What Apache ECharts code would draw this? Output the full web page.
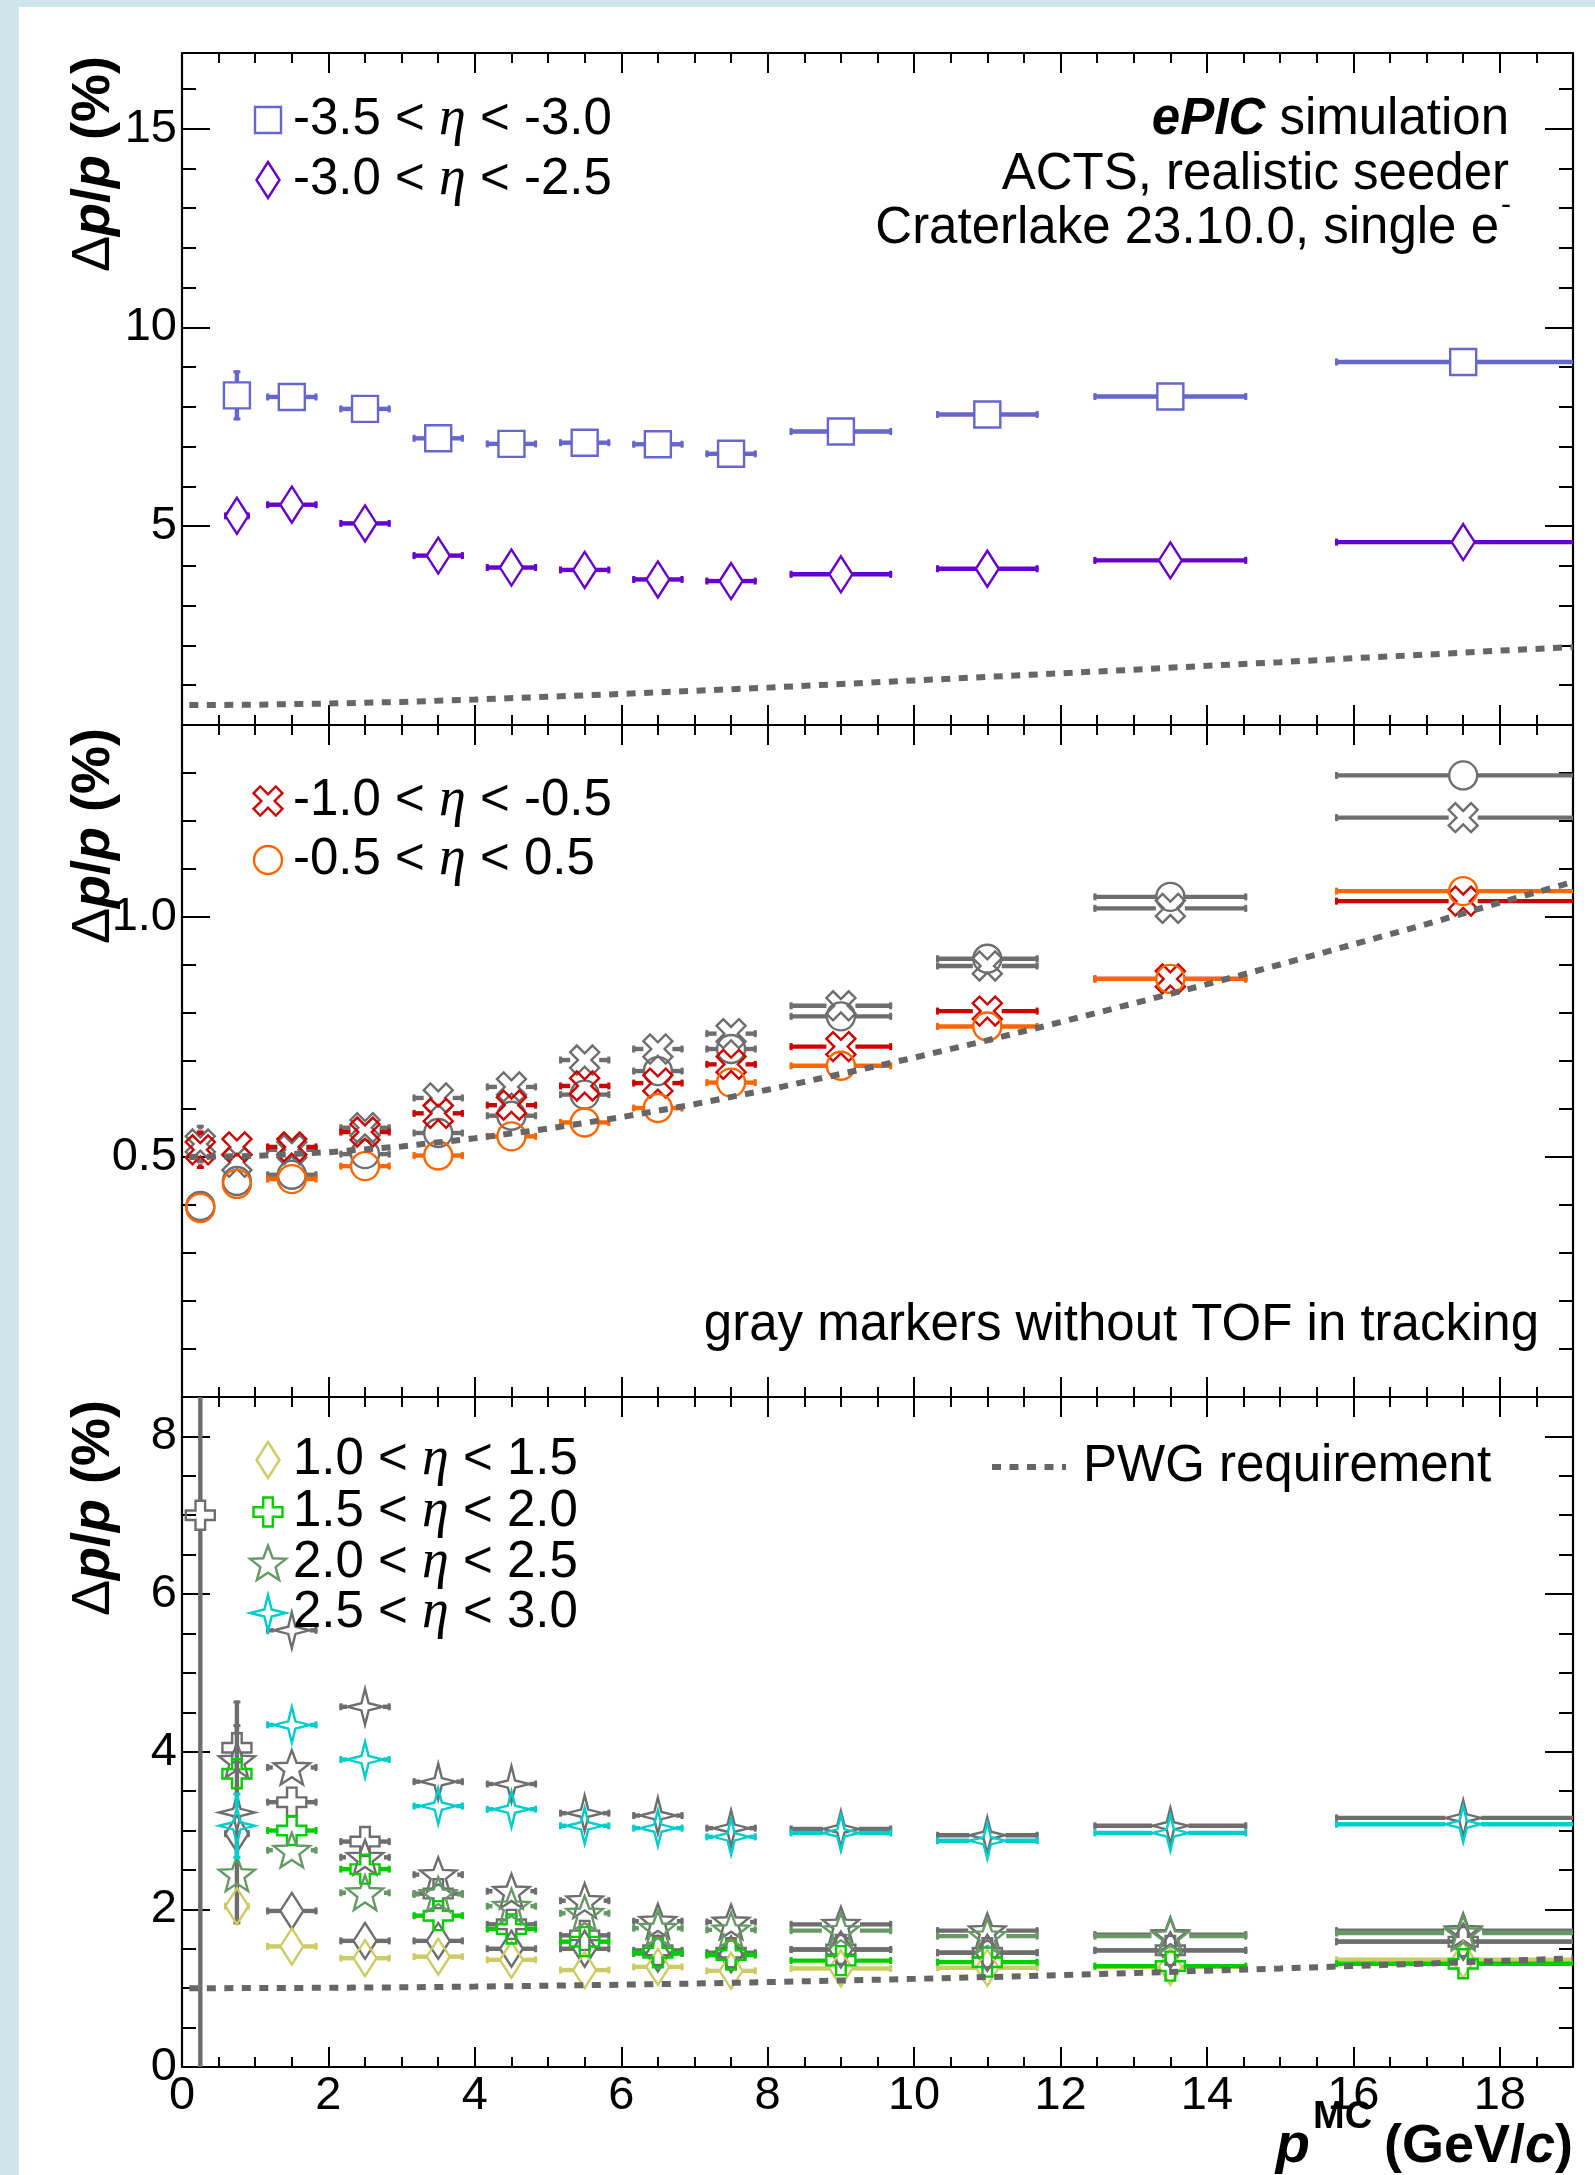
<!DOCTYPE html>
<html><head><meta charset="utf-8">
<script src="https://cdn.jsdelivr.net/npm/echarts@6/dist/echarts.min.js"></script>
<style>html,body{margin:0;padding:0;background:#cfe4eb;} #c{width:1595px;height:2175px;}</style>
</head><body><div id="c"></div>
<script>
// ---------------- data ----------------
const xCenters = [0.25, 0.75, 1.5, 2.5, 3.5, 4.5, 5.5, 6.5, 7.5, 9, 11, 13.5, 17.5];
const xErrors  = [0.175, 0.175, 0.35, 0.35, 0.35, 0.35, 0.35, 0.35, 0.35, 0.7, 0.7, 1.05, 1.75];

// panel 1 (backward)
const etaM35M30     = [null, 8.29, 8.25, 7.95, 7.21, 7.07, 7.10, 7.06, 6.82, 7.38, 7.81, 8.26, 9.13];
const etaM35M30Err  = [null, 0.63, 0.08, 0.08, 0.06, 0.06, 0.06, 0.06, 0.06, 0.05, 0.05, 0.05, 0.05];
const etaM30M25     = [null, 5.26, 5.54, 5.07, 4.26, 3.96, 3.90, 3.66, 3.62, 3.79, 3.93, 4.14, 4.60];
const etaM30M25Err  = [null, 0.10, 0.06, 0.05, 0.05, 0.04, 0.04, 0.04, 0.04, 0.04, 0.04, 0.04, 0.04];

// panel 2 (barrel)
const etaM10M05       = [0.515, 0.521, 0.521, 0.552, 0.591, 0.608, 0.648, 0.654, 0.693, 0.730, 0.804, 0.871, 1.033];
const etaM10M05Err    = [0.040, 0.020, 0.008, 0.006, 0.005, 0.005, 0.005, 0.005, 0.005, 0.005, 0.005, 0.005, 0.005];
const etaM10M05NoTOF  = [0.527, 0.489, 0.515, 0.561, 0.623, 0.646, 0.702, 0.725, 0.757, 0.815, 0.898, 1.018, 1.207];
const etaM05P05       = [0.394, 0.444, 0.454, 0.481, 0.503, 0.543, 0.572, 0.602, 0.655, 0.690, 0.772, 0.871, 1.054];
const etaM05P05Err    = [0.010, 0.008, 0.005, 0.005, 0.005, 0.005, 0.005, 0.005, 0.005, 0.005, 0.005, 0.005, 0.005];
const etaM05P05NoTOF  = [0.398, 0.450, 0.463, 0.506, 0.550, 0.586, 0.630, 0.679, 0.725, 0.793, 0.913, 1.042, 1.295];

// panel 3 (forward)
const eta10P15        = [null, 2.04, 1.53, 1.38, 1.40, 1.36, 1.23, 1.27, 1.22, 1.25, 1.26, 1.27, 1.36];
const eta10P15Err     = [null, 0.10, 0.04, 0.03, 0.03, 0.03, 0.03, 0.03, 0.03, 0.03, 0.03, 0.03, 0.03];
const eta10P15NoTOF   = [null, 2.96, 1.98, 1.60, 1.60, 1.50, 1.50, 1.44, 1.43, 1.49, 1.45, 1.48, 1.59];
const eta15P20        = [null, 3.72, 3.00, 2.51, 1.92, 1.75, 1.59, 1.45, 1.42, 1.35, 1.33, 1.28, 1.31];
const eta15P20Err     = [null, 0.15, 0.06, 0.05, 0.04, 0.04, 0.03, 0.03, 0.03, 0.03, 0.03, 0.03, 0.03];
const eta15P20NoTOF   = [7.00, 4.05, 3.36, 2.86, 2.20, 1.81, 1.67, 1.48, 1.45, 1.49, 1.45, 1.48, 1.59];
const eta15P20NoTOFErr= [7.50, 0.30, 0.06, 0.05, 0.04, 0.04, 0.03, 0.03, 0.03, 0.03, 0.03, 0.03, 0.03];
const eta20P25        = [null, 2.45, 2.75, 2.21, 2.19, 2.04, 1.95, 1.76, 1.74, 1.73, 1.66, 1.66, 1.70];
const eta20P25NoTOF   = [null, 3.89, 3.80, 2.66, 2.44, 2.23, 2.11, 1.85, 1.84, 1.81, 1.73, 1.68, 1.73];
const eta25P30        = [null, 3.06, 4.34, 3.90, 3.31, 3.27, 3.06, 3.03, 2.92, 2.97, 2.87, 2.97, 3.08];
const eta25P30Err     = [null, 0.42, 0.08, 0.06, 0.05, 0.05, 0.04, 0.04, 0.04, 0.04, 0.04, 0.04, 0.04];
const eta25P30NoTOF   = [null, 3.23, 5.54, 4.57, 3.62, 3.59, 3.22, 3.19, 3.03, 3.02, 2.94, 3.06, 3.16];
const eta25P30NoTOFErr= [null, 1.42, 0.08, 0.06, 0.05, 0.05, 0.04, 0.04, 0.04, 0.04, 0.04, 0.04, 0.04];
const smallErr        = [0.05, 0.05, 0.04, 0.04, 0.03, 0.03, 0.03, 0.03, 0.03, 0.03, 0.03, 0.03, 0.03];

// PWG requirement curves
const pwgX        = [0.1, 1, 2, 3, 4, 5, 6, 7, 8, 9, 10, 11, 12, 13, 14, 15, 16, 17, 18, 19];
const pwgBackward = [0.50, 0.51, 0.54, 0.58, 0.64, 0.71, 0.78, 0.86, 0.94, 1.03, 1.12, 1.21, 1.30, 1.39, 1.49, 1.58, 1.68, 1.77, 1.87, 1.96];
const pwgBarrel   = [0.50, 0.502, 0.51, 0.522, 0.539, 0.559, 0.583, 0.61, 0.64, 0.673, 0.707, 0.743, 0.781, 0.82, 0.86, 0.901, 0.943, 0.985, 1.03, 1.073];
const pwgForward  = [1.00, 1.001, 1.005, 1.011, 1.02, 1.031, 1.044, 1.059, 1.077, 1.097, 1.118, 1.141, 1.166, 1.193, 1.221, 1.25, 1.281, 1.312, 1.345, 1.379];

// axis ranges / ticks
const xRange = [0, 19];
const yRanges = [[0, 16.9], [0, 1.4], [0, 8.5]];
const yMajor = [5, 0.5, 2];
const yMinor = [1, 0.1, 0.5];
const yLabelsShown = [[5, 10, 15], [0.5, 1.0], [0, 2, 4, 6, 8]];
const xLabelsShown = [0, 2, 4, 6, 8, 10, 12, 14, 16, 18];

// ---------------- styling ----------------
const GRAY = '#6e6e6e';
const COL = {
  sq: '#6666cc', dia: '#6600cc', red: '#cc0000', orange: '#ff6600',
  yellow: '#cccc66', green: '#00cc00', sgreen: '#669966', cyan: '#00cccc'
};
const FONT = 'Liberation Sans, Arial, Helvetica, sans-serif';
const SERIF = 'Liberation Serif, Times New Roman, serif';

function plusPts(a) {
  return [[-a,-1],[a,-1],[a,-a],[1,-a],[1,a],[a,a],[a,1],[-a,1],[-a,a],[-1,a],[-1,-a],[-a,-a]];
}
function rotPts(p) {
  const r = p.map(([x,y]) => [(x - y)/Math.SQRT2, (x + y)/Math.SQRT2]);
  let m = 0; r.forEach(([x,y]) => { m = Math.max(m, Math.abs(x), Math.abs(y)); });
  return r.map(([x,y]) => [x/m, y/m]);
}
function starPts(n, inner) {
  const out = [];
  for (let k = 0; k < 2*n; k++) {
    const ang = -Math.PI/2 + k*Math.PI/n;
    const r = (k % 2) ? inner : 1;
    out.push([r*Math.cos(ang), r*Math.sin(ang) + 0.09]);
  }
  return out;
}
const MK = {
  square:  {w: 26, h: 26, pts: [[-1,-1],[1,-1],[1,1],[-1,1]]},
  diamond: {w: 23, h: 36, pts: [[0,-1],[1,0],[0,1],[-1,0]]},
  plus:    {w: 29, h: 29, pts: plusPts(0.33)},
  xcross:  {w: 29, h: 29, pts: rotPts(plusPts(0.3))},
  star5:   {w: 38, h: 38, pts: starPts(5, 0.42)},
  star4:   {w: 36, h: 36, pts: [[0,-1],[0.2,-0.2],[1,0],[0.2,0.2],[0,1],[-0.2,0.2],[-1,0],[-0.2,-0.2]]},
  circle:  {w: 28, h: 28}
};
function markerEl(type, cx, cy, color) {
  const m = MK[type];
  if (type === 'circle') {
    return {type: 'circle', shape: {cx: cx, cy: cy, r: m.w/2}, style: {fill: 'none', stroke: color, lineWidth: 2.4}};
  }
  return {type: 'polygon', shape: {points: m.pts.map(([x,y]) => [cx + x*m.w/2, cy + y*m.h/2])},
          style: {fill: 'none', stroke: color, lineWidth: 2.4}};
}
function lineEl(x1, y1, x2, y2, color, w) {
  return {type: 'line', shape: {x1, y1, x2, y2}, style: {stroke: color, lineWidth: w}};
}
function renderErr(api, type, color) {
  const x = api.value(0), y = api.value(1), ex = api.value(2), ey = api.value(3);
  const c = api.coord([x, y]);
  const xl = api.coord([x - ex, y])[0], xr = api.coord([x + ex, y])[0];
  const yt = api.coord([x, y + ey])[1], yb = api.coord([x, y - ey])[1];
  const m = MK[type], hw = m.w/2, hh = m.h/2;
  const ch = [], lw = 4.4, cap = 3.5;
  if (c[0] - xl > hw) { ch.push(lineEl(xl, c[1], c[0] - hw, c[1], color, lw)); ch.push(lineEl(xl + 1.5, c[1] - cap, xl + 1.5, c[1] + cap, color, 3)); }
  if (xr - c[0] > hw) { ch.push(lineEl(c[0] + hw, c[1], xr, c[1], color, lw)); ch.push(lineEl(xr - 1.5, c[1] - cap, xr - 1.5, c[1] + cap, color, 3)); }
  if (c[1] - yt > hh) { ch.push(lineEl(c[0], yt, c[0], c[1] - hh, color, lw)); ch.push(lineEl(c[0] - cap, yt + 1.5, c[0] + cap, yt + 1.5, color, 3)); }
  if (yb - c[1] > hh) { ch.push(lineEl(c[0], c[1] + hh, c[0], yb, color, lw)); ch.push(lineEl(c[0] - cap, yb - 1.5, c[0] + cap, yb - 1.5, color, 3)); }
  ch.push(markerEl(type, c[0], c[1], color));
  return {type: 'group', children: ch};
}
function errSeries(name, gi, ys, errs, type, color, z) {
  const data = [];
  xCenters.forEach((x, i) => { if (ys[i] != null) data.push([x, ys[i], xErrors[i], errs[i]]); });
  return {type: 'custom', name: name, xAxisIndex: gi*4, yAxisIndex: gi*4, clip: true, z: z, silent: true,
          data: data, encode: {x: 0, y: 1},
          renderItem: (p, api) => renderErr(api, type, color)};
}
function pwgSeries(gi, ys) {
  return {type: 'line', name: 'PWG requirement', xAxisIndex: gi*4, yAxisIndex: gi*4, z: 10, silent: true,
          data: pwgX.map((x, i) => [x, ys[i]]), symbol: 'none', clip: true, animation: false,
          lineStyle: {color: '#666666', width: 6, type: [9, 8.5], cap: 'butt'}};
}

// ---------------- layout ----------------
const GRID_LEFT = 182, GRID_W = 1391;
const gridTops = [53, 725, 1397], gridHs = [672, 672, 670];
const grids = gridTops.map((t, i) => ({left: GRID_LEFT, top: t, width: GRID_W, height: gridHs[i], containLabel: false}));

const xAxes = [], yAxes = [];
const axisLineStyle = {color: '#000', width: 2.2};
const LABEL_SIZE = 47;
for (let g = 0; g < 3; g++) {
  const lab = {show: g === 2, color: '#000', fontFamily: FONT, fontSize: LABEL_SIZE, margin: 6,
               formatter: v => xLabelsShown.indexOf(v) >= 0 ? String(v) : ''};
  const base = {type: 'value', gridIndex: g, min: xRange[0], max: xRange[1], splitLine: {show: false}};
  xAxes.push(Object.assign({}, base, {position: 'bottom', interval: 2, axisLine: {show: true, onZero: false, lineStyle: axisLineStyle},
    axisTick: {show: true, inside: true, length: 20, lineStyle: {color: '#000', width: 2}}, axisLabel: lab}));
  xAxes.push(Object.assign({}, base, {position: 'bottom', interval: 0.5, axisLine: {show: false, onZero: false},
    axisTick: {show: true, inside: true, length: 10, lineStyle: {color: '#000', width: 2}}, axisLabel: {show: false}}));
  xAxes.push(Object.assign({}, base, {position: 'top', interval: 2, axisLine: {show: true, onZero: false, lineStyle: axisLineStyle},
    axisTick: {show: true, inside: true, length: 20, lineStyle: {color: '#000', width: 2}}, axisLabel: {show: false}}));
  xAxes.push(Object.assign({}, base, {position: 'top', interval: 0.5, axisLine: {show: false, onZero: false},
    axisTick: {show: true, inside: true, length: 10, lineStyle: {color: '#000', width: 2}}, axisLabel: {show: false}}));

  const yb = {type: 'value', gridIndex: g, min: yRanges[g][0], max: yRanges[g][1], splitLine: {show: false}};
  const shown = yLabelsShown[g];
  const ylab = {show: true, color: '#000', fontFamily: FONT, fontSize: LABEL_SIZE, margin: 5,
                formatter: v => { for (const s of shown) { if (Math.abs(v - s) < 1e-9) return g === 1 ? s.toFixed(1) : String(s); } return ''; }};
  yAxes.push(Object.assign({}, yb, {position: 'left', interval: yMajor[g], axisLine: {show: true, onZero: false, lineStyle: axisLineStyle},
    axisTick: {show: true, inside: true, length: 28, lineStyle: {color: '#000', width: 2}}, axisLabel: ylab}));
  yAxes.push(Object.assign({}, yb, {position: 'left', interval: yMinor[g], axisLine: {show: false, onZero: false},
    axisTick: {show: true, inside: true, length: 14, lineStyle: {color: '#000', width: 2}}, axisLabel: {show: false}}));
  yAxes.push(Object.assign({}, yb, {position: 'right', interval: yMajor[g], axisLine: {show: true, onZero: false, lineStyle: axisLineStyle},
    axisTick: {show: true, inside: true, length: 28, lineStyle: {color: '#000', width: 2}}, axisLabel: {show: false}}));
  yAxes.push(Object.assign({}, yb, {position: 'right', interval: yMinor[g], axisLine: {show: false, onZero: false},
    axisTick: {show: true, inside: true, length: 14, lineStyle: {color: '#000', width: 2}}, axisLabel: {show: false}}));
}

const series = [
  // panel 1
  errSeries('-3.5<eta<-3.0', 0, etaM35M30, etaM35M30Err, 'square', COL.sq, 3),
  errSeries('-3.0<eta<-2.5', 0, etaM30M25, etaM30M25Err, 'diamond', COL.dia, 3),
  pwgSeries(0, pwgBackward),
  // panel 2 (gray first)
  errSeries('-1.0<eta<-0.5 no TOF', 1, etaM10M05NoTOF, etaM10M05Err, 'xcross', GRAY, 2),
  errSeries('-0.5<eta<0.5 no TOF', 1, etaM05P05NoTOF, etaM05P05Err, 'circle', GRAY, 2),
  errSeries('-1.0<eta<-0.5', 1, etaM10M05, etaM10M05Err, 'xcross', COL.red, 3),
  errSeries('-0.5<eta<0.5', 1, etaM05P05, etaM05P05Err, 'circle', COL.orange, 3),
  pwgSeries(1, pwgBarrel),
  // panel 3
  errSeries('1.0<eta<1.5 no TOF', 2, eta10P15NoTOF, smallErr, 'diamond', GRAY, 2),
  errSeries('1.5<eta<2.0 no TOF', 2, eta15P20NoTOF, eta15P20NoTOFErr, 'plus', GRAY, 2),
  errSeries('2.0<eta<2.5 no TOF', 2, eta20P25NoTOF, smallErr, 'star5', GRAY, 2),
  errSeries('2.5<eta<3.0 no TOF', 2, eta25P30NoTOF, eta25P30NoTOFErr, 'star4', GRAY, 2),
  errSeries('1.0<eta<1.5', 2, eta10P15, eta10P15Err, 'diamond', COL.yellow, 3),
  errSeries('1.5<eta<2.0', 2, eta15P20, eta15P20Err, 'plus', COL.green, 3),
  errSeries('2.0<eta<2.5', 2, eta20P25, smallErr, 'star5', COL.sgreen, 3),
  errSeries('2.5<eta<3.0', 2, eta25P30, eta25P30Err, 'star4', COL.cyan, 3),
  pwgSeries(2, pwgForward)
];

// ---------------- texts ----------------
const TEXT_SIZE = 51;
const etaRich = {e: {fontFamily: SERIF, fontStyle: 'italic', fontSize: 54, fill: '#000'}};
function txt(x, y, text, opts) {
  return Object.assign({type: 'text', x: x, y: y, z: 50, silent: true,
    style: Object.assign({text: text, fill: '#000', fontFamily: FONT, fontSize: TEXT_SIZE,
      textAlign: 'left', textVerticalAlign: 'middle', rich: etaRich}, opts || {})});
}
function legendMarker(type, cx, cy, color) {
  const el = markerEl(type, cx, cy, color);
  el.z = 50; el.silent = true;
  return el;
}
const LX = 268, TX = 293;
const yTitleRich = {
  d: {fontFamily: FONT, fontSize: 54, fontWeight: 'normal', fill: '#000'},
  i: {fontFamily: FONT, fontSize: 54, fontWeight: 'bold', fontStyle: 'italic', fill: '#000'},
  b: {fontFamily: FONT, fontSize: 54, fontWeight: 'bold', fill: '#000'}
};
function yTitle(top) {
  return {type: 'text', x: 94, y: top + 3, rotation: Math.PI/2, z: 50, silent: true,
    style: {text: '{d|Δ}{i|p}{b|/}{i|p}{b| (%)}', rich: yTitleRich, fontFamily: FONT, fontSize: 54,
      textAlign: 'right', textVerticalAlign: 'middle', fill: '#000'}};
}

const graphic = [
  {type: 'rect', z: -10, silent: true, shape: {x: 19, y: 7, width: 1595 - 19, height: 2175 - 7}, style: {fill: '#ffffff'}},
  // panel 1 legend
  legendMarker('square', LX, 120, COL.sq), txt(TX, 120, '-3.5 < {e|η} < -3.0'),
  legendMarker('diamond', LX, 180, COL.dia), txt(TX, 180, '-3.0 < {e|η} < -2.5'),
  // header
  txt(1509, 120, '{bi|ePIC} simulation', {textAlign: 'right', rich: {bi: {fontFamily: FONT, fontSize: TEXT_SIZE, fontWeight: 'bold', fontStyle: 'italic', fill: '#000'}}}),
  txt(1509, 175, 'ACTS, realistic seeder', {textAlign: 'right'}),
  txt(1499, 229, 'Craterlake 23.10.0, single e', {textAlign: 'right'}),
  txt(1501, 206, '-', {fontSize: 30}),
  // panel 2 legend
  legendMarker('xcross', LX, 801, COL.red), txt(TX, 801, '-1.0 < {e|η} < -0.5'),
  legendMarker('circle', LX, 860, COL.orange), txt(TX, 860, '-0.5 < {e|η} < 0.5'),
  txt(1539, 1326, 'gray markers without TOF in tracking', {textAlign: 'right'}),
  // panel 3 legend
  legendMarker('diamond', LX, 1460, COL.yellow), txt(TX, 1460, '1.0 < {e|η} < 1.5'),
  legendMarker('plus', LX, 1512, COL.green), txt(TX, 1512, '1.5 < {e|η} < 2.0'),
  legendMarker('star5', LX, 1563, COL.sgreen), txt(TX, 1563, '2.0 < {e|η} < 2.5'),
  legendMarker('star4', LX, 1613, COL.cyan), txt(TX, 1613, '2.5 < {e|η} < 3.0'),
  {type: 'line', z: 50, silent: true, shape: {x1: 992, y1: 1467, x2: 1066, y2: 1467},
   style: {stroke: '#666666', lineWidth: 6, lineDash: [9, 8.5]}},
  txt(1083, 1467, 'PWG requirement'),
  // y titles
  yTitle(gridTops[0]), yTitle(gridTops[1]), yTitle(gridTops[2]),
  // x title
  txt(1310, 2147, 'p', {textAlign: 'right', fontSize: 56, fontWeight: 'bold', fontStyle: 'italic'}),
  txt(1313, 2118, 'MC', {fontSize: 38, fontWeight: 'bold'}),
  txt(1573, 2147, '(GeV/{ci|c})', {textAlign: 'right', fontSize: 54, fontWeight: 'bold',
    rich: {ci: {fontFamily: FONT, fontSize: 54, fontWeight: 'bold', fontStyle: 'italic', fill: '#000'}}})
];

const chart = echarts.init(document.getElementById('c'), null, {renderer: 'canvas', width: 1595, height: 2175});
chart.setOption({
  backgroundColor: '#cfe4eb',
  animation: false,
  grid: grids,
  xAxis: xAxes,
  yAxis: yAxes,
  series: series,
  graphic: graphic
});
</script></body></html>
